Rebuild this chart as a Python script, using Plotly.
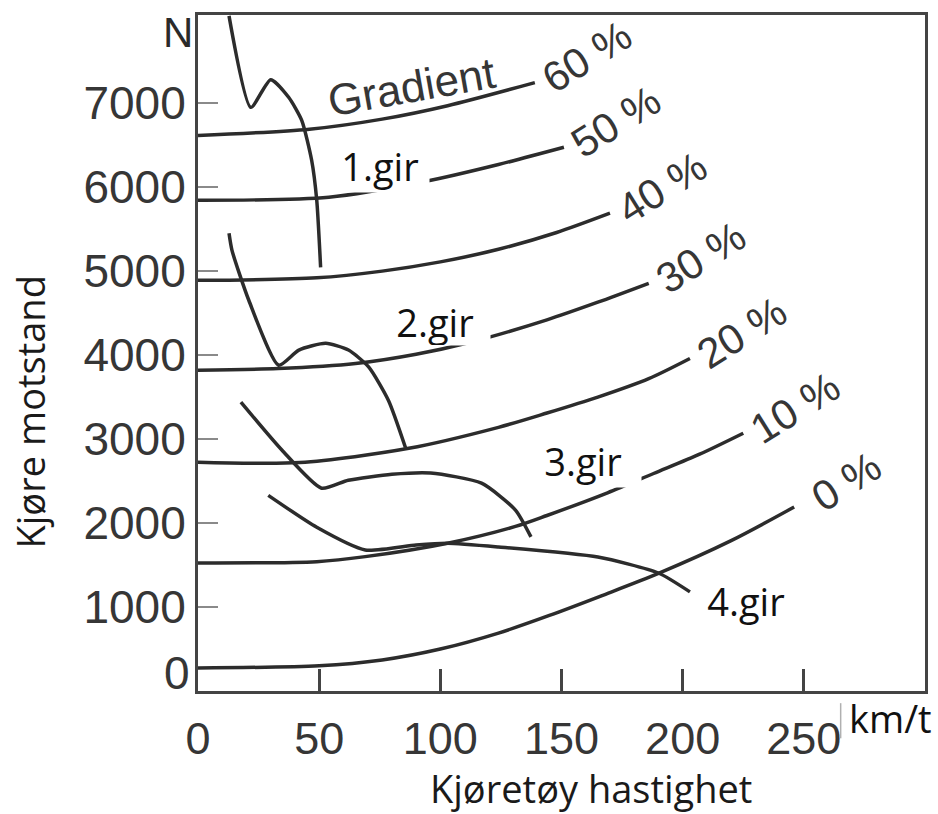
import plotly.graph_objects as go

# Driving resistance (N) versus vehicle speed (km/t) for road gradients 0-60 %
grad_labels = ["0 %", "10 %", "20 %", "30 %", "40 %", "50 %", "60 %"]

grad_0_speed = [0, 50, 76, 100, 124, 145, 167, 190, 220, 246]
grad_0_force = [275, 300, 370, 500, 690, 900, 1140, 1400, 1790, 2190]

grad_10_speed = [0, 49, 69, 103, 131, 144, 169, 188, 207, 225]
grad_10_force = [1525, 1540, 1600, 1760, 1960, 2090, 2360, 2590, 2820, 3070]

grad_20_speed = [0, 42, 87, 124, 144, 165, 186, 203]
grad_20_force = [2725, 2720, 2890, 3140, 3310, 3500, 3720, 3960]

grad_30_speed = [0, 33, 65, 90, 112, 144, 165, 186]
grad_30_force = [3820, 3840, 3900, 4010, 4150, 4420, 4630, 4855]

grad_40_speed = [0, 49, 76, 100, 124, 148, 170]
grad_40_force = [4890, 4920, 5000, 5110, 5260, 5460, 5690]

grad_50_speed = [0, 54, 94, 124, 151]
grad_50_force = [5845, 5880, 6070, 6270, 6475]

grad_60_speed = [0, 46, 76, 103, 139]
grad_60_force = [6615, 6690, 6810, 6970, 7245]

# Tractive force available in each gear
gear_labels = ["1.gir", "2.gir", "3.gir", "4.gir"]

gear_1_speed = [12.8, 21.8, 30, 37.4, 42.8, 46.9, 49, 50.6]
gear_1_force = [8040, 6950, 7280, 7070, 6795, 6320, 5845, 5045]

gear_2_speed = [12.8, 14, 21, 33.3, 41.6, 52.7, 62.1, 70.4, 78.6, 85.6]
gear_2_force = [5450, 5250, 4650, 3880, 4060, 4140, 4060, 3860, 3460, 2900]

gear_3_speed = [17.7, 34.6, 51, 62, 80, 96, 117, 131, 137.4]
gear_3_force = [3440, 2870, 2415, 2510, 2580, 2595, 2475, 2155, 1835]

gear_4_speed = [29, 49, 69, 90, 103, 124, 165, 190, 203]
gear_4_force = [2330, 1950, 1680, 1740, 1760, 1715, 1595, 1405, 1180]

# Where each gear name is written (speed, force) and the size of its white box
gear_label_pos = [(75, 6250), (98, 4400), (159, 2740), (226, 1070)]
gear_label_box = [(98, 52), (110, 47), (116, 52), (92, 52)]

x_ticks = [0, 50, 100, 150, 200, 250]
y_ticks = [1000, 2000, 3000, 4000, 5000, 6000, 7000]

LINE = "#2c2c2c"
TEXT = "#363636"
SANS = "Liberation Sans, Arial, sans-serif"
HUMANIST = "Open Sans, sans-serif"

fig = go.Figure()

grad_series = [
    (grad_0_speed, grad_0_force),
    (grad_10_speed, grad_10_force),
    (grad_20_speed, grad_20_force),
    (grad_30_speed, grad_30_force),
    (grad_40_speed, grad_40_force),
    (grad_50_speed, grad_50_force),
    (grad_60_speed, grad_60_force),
]
for (sx, sy), name in zip(grad_series, grad_labels):
    fig.add_trace(go.Scatter(
        x=sx, y=sy, mode="lines", name=name,
        line=dict(color=LINE, width=3.5, shape="spline", smoothing=0.8),
        hoverinfo="skip",
    ))
    fig.add_annotation(
        x=sx[-1], y=sy[-1], text=name, showarrow=False,
        xanchor="center", yanchor="middle", xshift=52, yshift=26,
        textangle=-32,
        font=dict(family=SANS, size=42, color=TEXT),
    )

gear_series = [
    (gear_1_speed, gear_1_force),
    (gear_2_speed, gear_2_force),
    (gear_3_speed, gear_3_force),
    (gear_4_speed, gear_4_force),
]
for (sx, sy), name in zip(gear_series, gear_labels):
    fig.add_trace(go.Scatter(
        x=sx, y=sy, mode="lines", name=name,
        line=dict(color=LINE, width=3.5, shape="spline", smoothing=0.6),
        hoverinfo="skip",
    ))

for name, (px, py), (bw, bh) in zip(gear_labels, gear_label_pos, gear_label_box):
    fig.add_annotation(
        x=px, y=py, text=name, showarrow=False,
        xanchor="center", yanchor="middle",
        width=bw, height=bh, bgcolor="white", borderpad=0,
        font=dict(family=HUMANIST, size=38, color="#111111"),
    )

# "Gradient" caption over the 60 % curve
fig.add_annotation(
    x=88, y=7200, text="Gradient", showarrow=False,
    textangle=-10,
    font=dict(family=SANS, size=44, color=TEXT),
)

# Unit labels and the zero of the force axis
fig.add_annotation(
    xref="paper", yref="paper", x=0, y=1, xshift=-20, yshift=-17,
    text="N", showarrow=False, xanchor="center", yanchor="middle",
    font=dict(family=SANS, size=42, color="#2a2a2a"),
)
fig.add_annotation(
    x=0, y=0, text="0", showarrow=False, xanchor="right", yanchor="middle",
    xshift=-6, yshift=18,
    font=dict(family=SANS, size=46, color=TEXT),
)
fig.add_annotation(
    xref="paper", yref="paper", x=0.953, y=0, yshift=-27,
    text="km/t", showarrow=False, xanchor="center", yanchor="middle",
    font=dict(family=HUMANIST, size=38, color="#111111"),
)
fig.add_shape(
    type="line", xref="paper", yref="paper",
    x0=0.884, x1=0.884, y0=-0.018, y1=-0.07,
    line=dict(color="#b0b0b0", width=1.5),
)

# Axis titles
fig.add_annotation(
    xref="paper", yref="paper", x=0.54, y=0, yshift=-97,
    text="Kjøretøy hastighet", showarrow=False, xanchor="center", yanchor="middle",
    font=dict(family=HUMANIST, size=38, color="#1a1a1a"),
)
fig.add_annotation(
    xref="paper", yref="paper", x=0, xshift=-168, y=0.412,
    text="Kjøre motstand", showarrow=False, textangle=-90,
    xanchor="center", yanchor="middle",
    font=dict(family=HUMANIST, size=38, color="#1a1a1a"),
)

axis_common = dict(
    showline=True, linewidth=3, linecolor="#444444", mirror=True,
    showgrid=False, zeroline=False, ticks="inside",
)
fig.update_xaxes(
    range=[0, 300], tickvals=x_ticks, ticktext=[str(v) for v in x_ticks],
    ticklen=22, tickwidth=3, tickcolor="#444444", ticklabelstandoff=6,
    tickfont=dict(family=SANS, size=45, color=TEXT),
    **axis_common,
)
fig.update_yaxes(
    range=[0, 8050], tickvals=y_ticks, ticktext=[str(v) for v in y_ticks],
    ticklen=20, tickwidth=2, tickcolor="#8a8a8a", ticklabelstandoff=0,
    tickfont=dict(family=SANS, size=46, color=TEXT),
    **axis_common,
)

fig.update_layout(
    width=938, height=814,
    margin=dict(l=198, r=10, t=15, b=123),
    plot_bgcolor="white", paper_bgcolor="white",
    showlegend=False,
)

fig.write_html("out.html")
